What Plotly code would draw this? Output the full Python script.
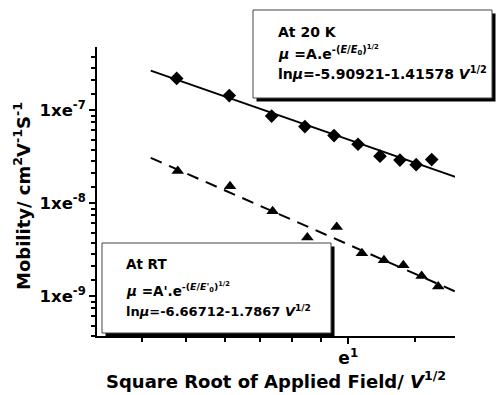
import math
import plotly.graph_objects as go

# ---------------- data ----------------
field_20k = [1.705, 1.967, 2.207, 2.416, 2.615, 2.791, 2.963, 3.128, 3.269, 3.410]
mob_20k = [2.19e-7, 1.43e-7, 8.62e-8, 6.65e-8, 5.32e-8, 4.29e-8, 3.20e-8, 2.90e-8, 2.59e-8, 2.94e-8]

field_rt = [1.710, 1.971, 2.213, 2.432, 2.634, 2.821, 2.995, 3.157, 3.318, 3.471]
mob_rt = [2.21e-8, 1.52e-8, 8.20e-9, 4.28e-9, 5.56e-9, 2.90e-9, 2.44e-9, 2.15e-9, 1.65e-9, 1.27e-9]

fit_20k_x = [1.589, 3.66]
fit_20k_y = [2.65e-7, 1.88e-8]
fit_rt_x = [1.589, 3.69]
fit_rt_y = [3.07e-8, 1.06e-9]

y_major_vals = [1e-9, 1e-8, 1e-7]
y_major_text = ["1xe<sup>-9</sup>", "1xe<sup>-8</sup>", "1xe<sup>-7</sup>"]
y_minor_factors = [1.5, 2.1, 2.85, 3.75, 4.8, 6.15, 7.4, 8.6]
y_minor_decades = [1e-10, 1e-9, 1e-8, 1e-7]

x_major_vals = [math.e]
x_major_text = ["e<sup>1</sup>"]
x_minor_vals = [1.553, 1.748, 1.942, 2.136, 2.330, 2.524, 3.26]

x_range_vals = [1.373, 3.633]
y_range_vals = [3.74e-10, 4.76e-7]

# ---------------- layout helpers ----------------
W, H = 496, 395
L, R, T, B = 97, 455, 47, 336


def px(x):
    return (x - L) / (R - L)


def py(y):
    return (B - y) / (B - T)


FONT = "DejaVu Sans"

fig = go.Figure()

fig.add_trace(go.Scatter(x=fit_20k_x, y=fit_20k_y, mode="lines",
                         line=dict(color="black", width=2), showlegend=False))
fig.add_trace(go.Scatter(x=fit_rt_x, y=fit_rt_y, mode="lines",
                         line=dict(color="black", width=2, dash="12px,8px"), showlegend=False))
fig.add_trace(go.Scatter(x=field_20k, y=mob_20k, mode="markers",
                         marker=dict(symbol="diamond", size=10.5, color="black"),
                         showlegend=False, cliponaxis=False))
fig.add_trace(go.Scatter(x=field_rt, y=mob_rt, mode="markers",
                         marker=dict(symbol="triangle-up", size=11, color="black"),
                         showlegend=False, cliponaxis=False))

y_minor_vals = [d * f for d in y_minor_decades for f in y_minor_factors]

fig.update_xaxes(
    type="log",
    range=[math.log10(v) for v in x_range_vals],
    showline=True, linecolor="black", linewidth=2,
    showgrid=False, zeroline=False,
    ticks="outside", ticklen=6, tickwidth=1.5, tickcolor="black",
    tickmode="array", tickvals=x_major_vals, ticktext=x_major_text,
    tickfont=dict(family=FONT, size=17, color="black", weight="bold"),
    minor=dict(tickmode="array", tickvals=x_minor_vals, ticks="outside",
               ticklen=4, tickwidth=1.5, tickcolor="black", showgrid=False),
)
fig.update_yaxes(
    type="log",
    range=[math.log10(v) for v in y_range_vals],
    showline=True, linecolor="black", linewidth=2,
    showgrid=False, zeroline=False,
    ticks="outside", ticklen=6, tickwidth=1.5, tickcolor="black",
    tickmode="array", tickvals=y_major_vals, ticktext=y_major_text,
    tickfont=dict(family=FONT, size=16.5, color="black", weight="bold"),
    minor=dict(tickmode="array", tickvals=y_minor_vals, ticks="outside",
               ticklen=4, tickwidth=1.5, tickcolor="black", showgrid=False),
)

shapes = []


def add_box(x0, y0, x1, y1, off=3.5):
    shapes.append(dict(type="rect", xref="paper", yref="paper", layer="above",
                       x0=px(x0 + off), x1=px(x1 + off), y0=py(y1 + off), y1=py(y0 + off),
                       fillcolor="black", line=dict(width=0)))
    shapes.append(dict(type="rect", xref="paper", yref="paper", layer="above",
                       x0=px(x0), x1=px(x1), y0=py(y1), y1=py(y0),
                       fillcolor="white", line=dict(color="#444444", width=1)))


add_box(253, 10, 492, 98)
add_box(102, 243, 331, 333)

ann = []


def add_text(x, y, text, size=14, anchor="left", angle=0):
    ann.append(dict(xref="paper", yref="paper", x=px(x), y=py(y), text=text,
                    showarrow=False, xanchor=anchor, yanchor="middle", textangle=angle,
                    font=dict(family=FONT, size=size, color="black", weight="bold")))


add_text(276, 32, "At 20 K", size=14)
add_text(276, 53, "<i>μ</i> =A.e<sup>-(<i>E</i>/<i>E</i><sub>0</sub>)<sup>1/2</sup></sup>", size=14)
add_text(276, 73, "ln<i>μ</i>=-5.90921-1.41578 <i>V</i><sup>1/2</sup>", size=14)

add_text(124, 264, "At RT", size=13.5)
add_text(124, 289, "<i>μ</i> =A'.e<sup>-(<i>E</i>/<i>E</i>'<sub>0</sub>)<sup>1/2</sup></sup>", size=13.5)
add_text(124, 311, "ln<i>μ</i>=-6.66712-1.7867 <i>V</i><sup>1/2</sup>", size=13)

add_text(276, 380, "Square Root of Applied Field/ <i>V</i><sup>1/2</sup>", size=18, anchor="center")
add_text(22, 196, "Mobility/ cm<sup>2</sup>V<sup>-1</sup>S<sup>-1</sup>", size=18, anchor="center", angle=-90)

fig.update_layout(
    width=W, height=H,
    margin=dict(l=L, r=W - R, t=T, b=H - B),
    plot_bgcolor="white", paper_bgcolor="white",
    shapes=shapes, annotations=ann,
    showlegend=False,
)

fig.write_html("out.html")
